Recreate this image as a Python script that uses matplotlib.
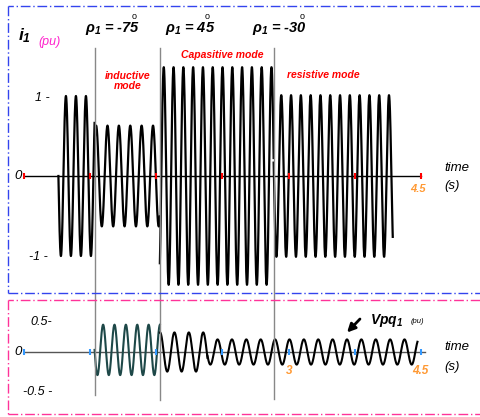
import numpy as np
import matplotlib
matplotlib.use("Agg")
import matplotlib.pyplot as plt
from matplotlib.lines import Line2D

plt.rcParams['font.family'] = ['Liberation Sans', 'DejaVu Sans']
plt.rcParams['mathtext.fontset'] = 'custom'
plt.rcParams['mathtext.it'] = 'Liberation Sans:italic:bold'
plt.rcParams['mathtext.rm'] = 'Liberation Sans:italic:bold'
plt.rcParams['mathtext.bf'] = 'Liberation Sans:italic:bold'

# current i1 (pu): segments
i1_start = [0.39, 0.80, 1.54, 2.83]
i1_end = [0.80, 1.54, 2.83, 4.18]
i1_amp = [1.0, 0.63, 1.36, 1.01]
i1_period = [0.1134, 0.129, 0.111, 0.111]

# injected voltage Vpq1 (pu)
v_start = [0.80, 1.54, 2.08]
v_end = [1.54, 2.08, 4.46]
v_amp = [0.36, 0.28, 0.18]
v_offset = [0.03, 0.0, 0.0]
v_period = [0.129, 0.163, 0.163]
v_color = ['#1e4848', 'black', 'black']

switch_t = [0.80, 1.54, 2.83]
switch_labels = [r'$\rho_1$ = -75', r'$\rho_1$ = 45', r'$\rho_1$ = -30']
ticks_t = [0, 0.75, 1.5, 2.25, 3.0, 3.75, 4.5]


def build(starts, ends, amps, periods, offsets=None, dt=0.0004):
    out = []
    ph = 0.0
    for k, (s, e, a, p) in enumerate(zip(starts, ends, amps, periods)):
        t = np.arange(s, e + dt / 2, dt)
        off = offsets[k] if offsets else 0.0
        y = off - a * np.sin(ph + 2 * np.pi * (t - s) / p)
        ph += 2 * np.pi * (e - s) / p
        out.append((t, y))
    return out


fig = plt.figure(figsize=(4.8, 4.17), dpi=100)
ax1 = fig.add_axes([0, 121 / 417, 1, 296 / 417])
ax2 = fig.add_axes([0, 0, 1, 121 / 417])
for ax in (ax1, ax2):
    ax.set_xlim(-24 / 88.22, 456 / 88.22)
    ax.axis('off')
ax1.set_ylim(-1.5, 2.2)
ax2.set_ylim(-65 / 70, 56 / 70)

# top panel
ax1.plot([0, 4.5], [0, 0], color='black', lw=1.0, zorder=1)
for t, y in build(i1_start, i1_end, i1_amp, i1_period):
    ax1.plot(t, y, color='black', lw=1.6, zorder=2)
ax1.plot(ticks_t, [0] * len(ticks_t), '|', color='red', ms=4, mew=1.5, zorder=3)

for t in switch_t:
    ax1.plot([t, t], [-1.5, 1.6], color='#888888', lw=1.0, zorder=4)
ax2.plot([switch_t[0]] * 2, [0.8, -0.614], color='#888888', lw=1.0, zorder=4)
ax2.plot([switch_t[1]] * 2, [0.8, -0.686], color='#888888', lw=1.0, zorder=4)
ax2.plot([switch_t[2]] * 2, [0.8, -0.671], color='#888888', lw=1.0, zorder=4)

lab_x = [0.69, 1.60, 2.58]
deg_x = [1.225, 2.05, 3.12]
for x, dx, s in zip(lab_x, deg_x, switch_labels):
    ax1.text(x, 1.84, s, fontsize=10.5, fontweight='bold', style='italic', va='center', ha='left')
    ax1.text(dx, 2.0, 'o', fontsize=6.5, va='center', ha='left')

ax1.text(-0.07, 1.76, r'$i_1$', fontsize=12.5, va='center', ha='left')
ax1.text(0.16, 1.67, '(pu)', fontsize=9, style='italic', color='#ff22cc', va='center')

ax1.text(1.18, 1.19, 'inductive\nmode', fontsize=7.5, fontweight='bold', style='italic',
         color='red', ha='center', va='center', linespacing=1.0)
ax1.text(2.245, 1.51, 'Capasitive mode', fontsize=7.5, fontweight='bold', style='italic',
         color='red', ha='center', va='center')
ax1.text(3.39, 1.26, 'resistive mode', fontsize=7.5, fontweight='bold', style='italic',
         color='red', ha='center', va='center')

ax1.text(0.295, 0.975, '1 -', fontsize=9, style='italic', ha='right', va='center')
ax1.text(-0.02, 0, '0', fontsize=9.5, style='italic', ha='right', va='center')
ax1.text(0.272, -1.01, '-1 -', fontsize=9, style='italic', ha='right', va='center')
ax1.text(4.77, 0.1, 'time', fontsize=9.5, style='italic', ha='left', va='center')
ax1.text(4.77, -0.13, '(s)', fontsize=9.5, style='italic', ha='left', va='center')
ax1.text(4.47, -0.16, '4.5', fontsize=8, style='italic', fontweight='bold', color='#ff9933',
         ha='center', va='center')

# bottom panel
ax2.plot([0, 4.55], [0, 0], color='#555555', lw=1.0, zorder=1)
for (t, y), c in zip(build(v_start, v_end, v_amp, v_period, v_offset), v_color):
    ax2.plot(t, y, color=c, lw=1.5, zorder=2)
ax2.plot(ticks_t, [0] * len(ticks_t), '|', color='#3399ff', ms=4, mew=1.5, zorder=3)

ax2.text(0.317, 0.43, '0.5-', fontsize=9, style='italic', ha='right', va='center')
ax2.text(-0.02, 0, '0', fontsize=9.5, style='italic', ha='right', va='center')
ax2.text(0.317, -0.57, '-0.5 -', fontsize=9, style='italic', ha='right', va='center')
ax2.text(4.77, 0.07, 'time', fontsize=9.5, style='italic', ha='left', va='center')
ax2.text(4.77, -0.21, '(s)', fontsize=9.5, style='italic', ha='left', va='center')
ax2.text(3.0, -0.27, '3', fontsize=8.5, style='italic', fontweight='bold', color='#ff9933',
         ha='center', va='center')
ax2.text(4.49, -0.27, '4.5', fontsize=8.5, style='italic', fontweight='bold', color='#ff9933',
         ha='center', va='center')
ax2.text(3.92, 0.45, r'$Vpq_1$', fontsize=10, ha='left', va='center')
ax2.text(4.38, 0.43, '(pu)', fontsize=5.5, style='italic', ha='left', va='center')
ax2.annotate('', xy=(3.64, 0.25), xytext=(3.83, 0.50),
             arrowprops=dict(arrowstyle='-|>', color='black', lw=2.0, mutation_scale=12))

# dash-dot frames
W, H = 480, 417


def frame(x0, y0, x1, y1, color):
    pts = [((x1, y0), (x0, y0)), ((x0, y0), (x0, y1)), ((x0, y1), (x1, y1))]
    for (a, b) in pts:
        fig.add_artist(Line2D([a[0] / W, b[0] / W], [1 - a[1] / H, 1 - b[1] / H],
                              color=color, lw=1.0, ls=(0, (7, 2, 1, 2))))


frame(8, 6, 480, 293, '#3344ee')
frame(8, 300, 480, 414, '#ff3399')

fig.savefig('out.png', dpi=100)
